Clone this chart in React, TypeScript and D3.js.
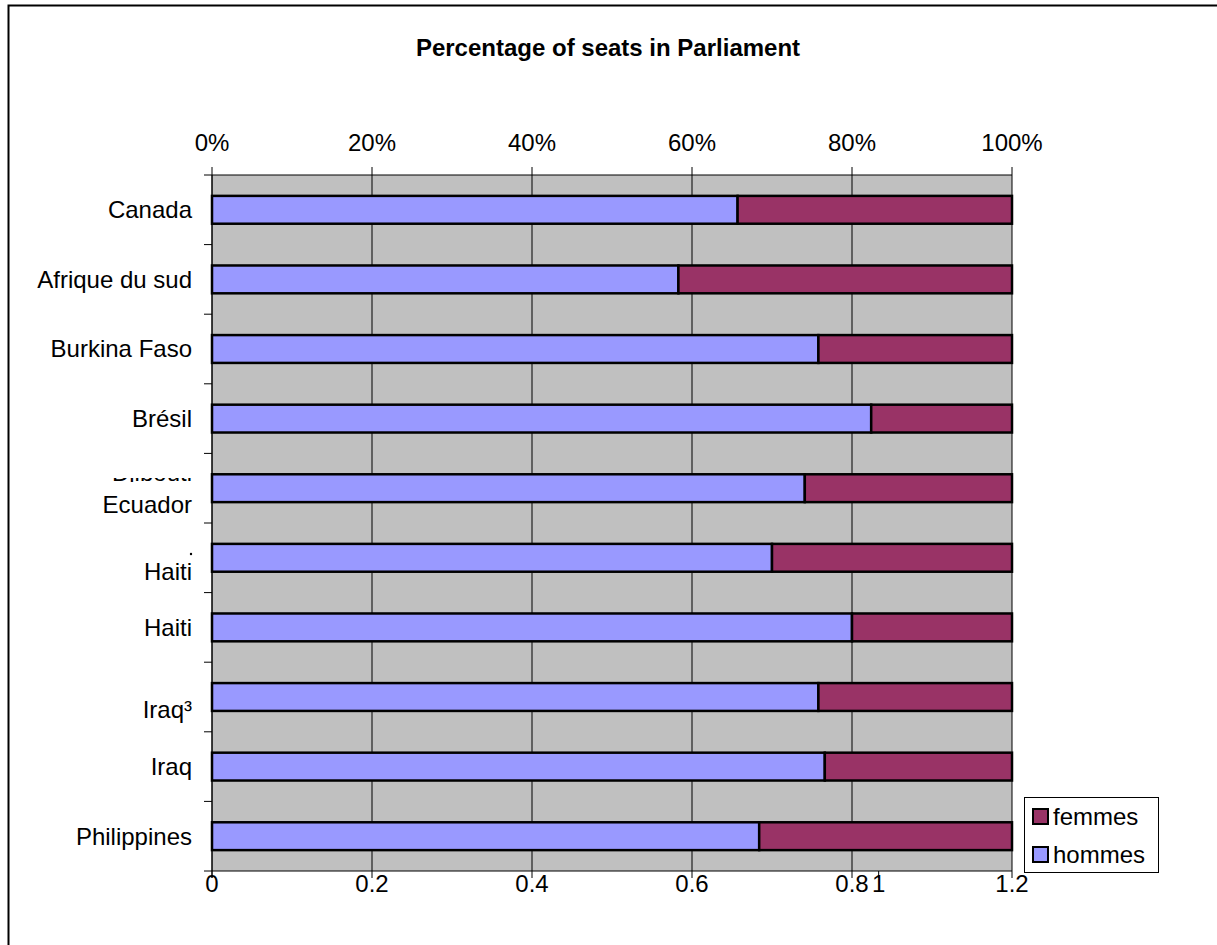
import React from "react";
import * as d3 from "d3";

const categories = ["Canada", "Afrique du sud", "Burkina Faso", "Brésil", "Ecuador", "Haiti", "Haiti", "Iraq³", "Iraq", "Philippines"];
const hommes = [0.657, 0.583, 0.758, 0.824, 0.741, 0.70, 0.80, 0.758, 0.766, 0.684];
const femmes = [0.343, 0.417, 0.242, 0.176, 0.259, 0.30, 0.20, 0.242, 0.234, 0.316];
const topTicks = [0, 0.2, 0.4, 0.6, 0.8, 1];
const bottomTicks = [0, 0.2, 0.4, 0.6, 0.8, 1, 1.2];
const seriesNames = ["femmes", "hommes"];
const seriesColors = ["#993366", "#9999FF"];

const W = 1217, H = 945;
const left = 212, right = 1012, top = 175, bottom = 871;
const FONT = "'Liberation Sans', Arial, sans-serif";

export default function App() {
  const x = d3.scaleLinear().domain([0, 1]).range([left, right]);
  const xb = d3.scaleLinear().domain([0, 1.2]).range([left, right]);
  const y = d3.scaleBand<number>().domain(d3.range(categories.length)).range([top, bottom]).paddingInner(0.6).paddingOuter(0.3);
  const yOuter = d3.scaleBand<number>().domain(d3.range(categories.length)).range([top, bottom]);
  const stack = d3.stack<number>().keys(["hommes", "femmes"]).value((i, k) => (k === "hommes" ? hommes[i] : femmes[i]));
  const series = stack(d3.range(categories.length));
  const colorOf: Record<string, string> = { hommes: seriesColors[1], femmes: seriesColors[0] };
  // Excel-like quirk: bottom labels below 1 sit on the percentage grid
  const bottomPos = (v: number) => (v < 1 ? x(v) : xb(v));
  const labelShift = [0, 0, 0, 0, 16, 14, 0, 13, 0, 0];

  return (
    <svg width={W} height={H} style={{ position: "absolute", left: 0, top: 0, fontFamily: FONT }}>
      <defs>
        <clipPath id="djclip">
          <rect x={90} y={478} width={110} height={4} />
        </clipPath>
      </defs>
      <rect x={0} y={0} width={W} height={H} fill="#fff" />
      <rect x={8.5} y={5.5} width={1400} height={1200} fill="none" stroke="#000" strokeWidth={2} />
      <text x={608} y={56} textAnchor="middle" fontSize={24} fontWeight="bold" fill="#000">
        Percentage of seats in Parliament
      </text>
      <rect x={left} y={top} width={right - left} height={bottom - top} fill="#C0C0C0" />
      {topTicks.map((t) => (
        <g key={"g" + t}>
          <line x1={x(t)} x2={x(t)} y1={top - 8} y2={bottom} stroke="#000" strokeWidth={1} />
          <text x={x(t)} y={151} textAnchor="middle" fontSize={24} fill="#000">{d3.format(".0%")(t)}</text>
        </g>
      ))}
      <line x1={left} x2={right} y1={top} y2={top} stroke="#000" strokeWidth={1} />
      <line x1={left} x2={right} y1={bottom} y2={bottom} stroke="#000" strokeWidth={1} />
      <line x1={left} x2={left} y1={top} y2={bottom + 7} stroke="#000" strokeWidth={1} />
      {d3.range(categories.length + 1).map((i) => {
        const yy = i < categories.length ? yOuter(i)! : bottom;
        return <line key={"lt" + i} x1={left - 8} x2={left} y1={yy} y2={yy} stroke="#000" strokeWidth={1} />;
      })}
      {series.map((s) => (
        <g key={s.key}>
          {s.map((d, i) => (
            <rect key={i} x={x(d[0])} y={y(i)!} width={x(d[1]) - x(d[0])} height={y.bandwidth()} fill={colorOf[s.key]} stroke="#000" strokeWidth={2.5} />
          ))}
        </g>
      ))}
      {categories.map((c, i) => (
        <text key={"c" + i} x={192} y={yOuter(i)! + yOuter.bandwidth() / 2 + labelShift[i]} dy="0.35em" textAnchor="end" fontSize={24} fill="#000">
          {c}
        </text>
      ))}
      <text x={192} y={481} textAnchor="end" fontSize={24} fill="#000" clipPath="url(#djclip)">Djibouti</text>
      <circle cx={191} cy={554} r={1.2} fill="#000" />
      {bottomTicks.map((t) => (
        <g key={"b" + t}>
          <line x1={bottomPos(t)} x2={bottomPos(t)} y1={bottom} y2={bottom + 7} stroke="#000" strokeWidth={1} />
          <text x={bottomPos(t)} y={892} textAnchor="middle" fontSize={24} fill="#000">{String(t)}</text>
        </g>
      ))}
      <g>
        <rect x={1024.5} y={797.5} width={134} height={75} fill="#fff" stroke="#000" strokeWidth={1} />
        {seriesNames.map((n, i) => (
          <g key={n}>
            <rect x={1033} y={809 + i * 38} width={15} height={15} fill={seriesColors[i]} stroke="#000" strokeWidth={2} />
            <text x={1053} y={817 + i * 38} dy="0.35em" fontSize={24} fill="#000">{n}</text>
          </g>
        ))}
      </g>
    </svg>
  );
}
